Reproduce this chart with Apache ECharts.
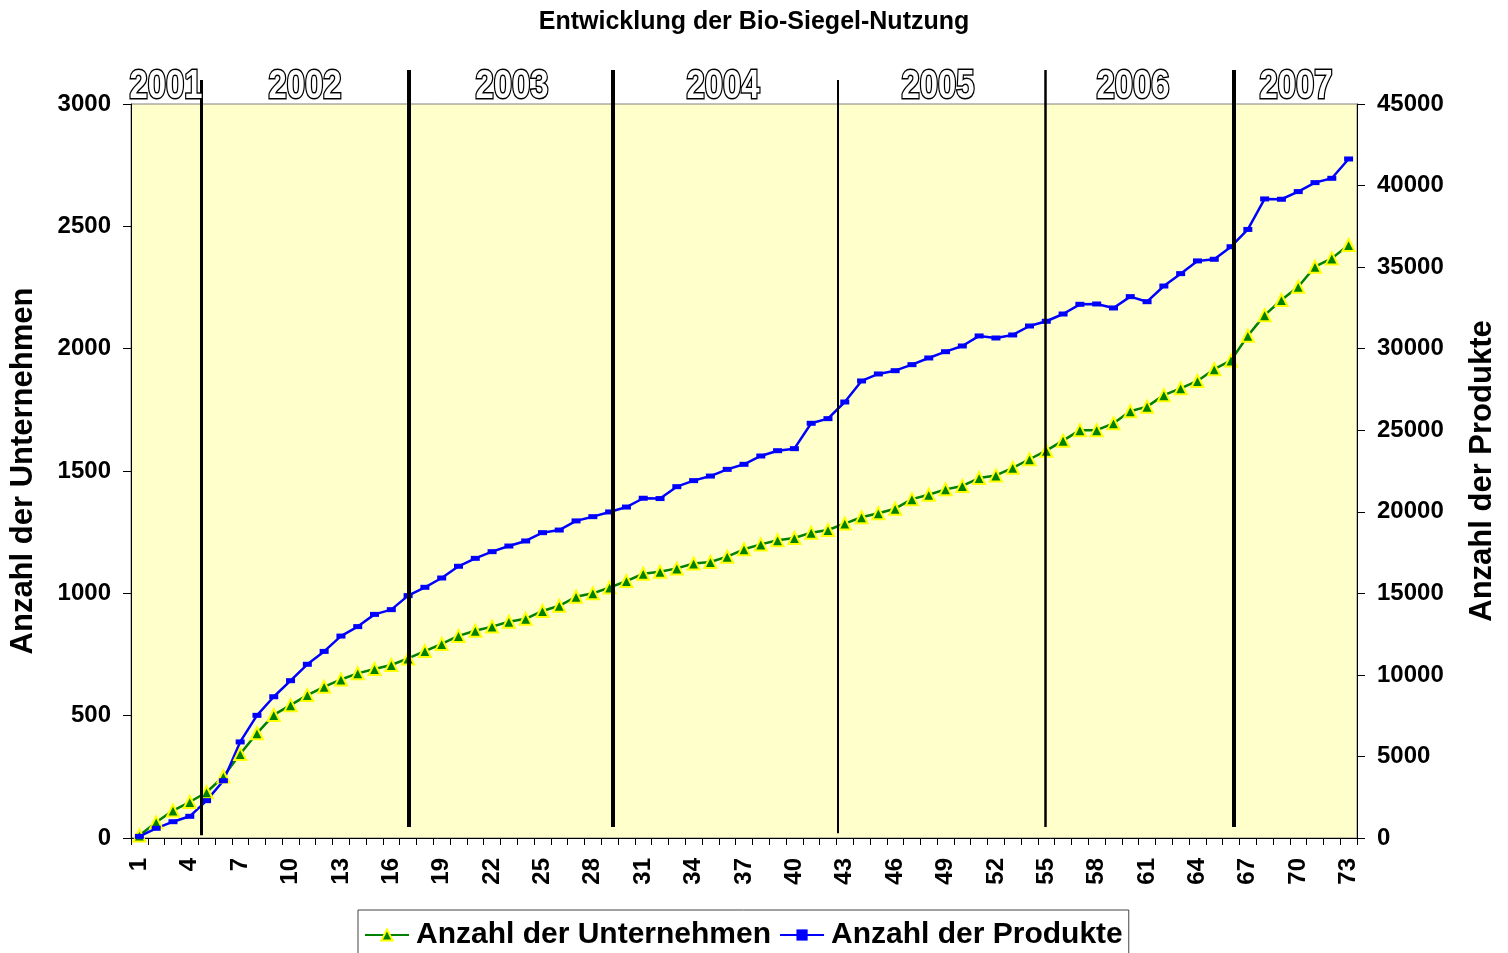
<!DOCTYPE html>
<html>
<head>
<meta charset="utf-8">
<script src="https://cdn.jsdelivr.net/npm/echarts@6/dist/echarts.min.js"></script>
<style>
  html, body { margin: 0; padding: 0; background: #fff; }
  #main { width: 1508px; height: 953px; }
</style>
</head>
<body>
<div id="main"></div>
<script>
// Wochen 1..73
const wochen = Array.from({ length: 73 }, (_, i) => String(i + 1));

const unternehmen = [
  10, 64, 112, 147, 187, 251, 343, 428, 503, 543,
  584, 618, 648, 673, 691, 707, 734, 764, 793, 826,
  847, 864, 884, 896, 928, 949, 986, 1000, 1024, 1050,
  1080, 1088, 1102, 1122, 1128, 1150, 1180, 1200, 1217, 1226,
  1248, 1259, 1285, 1311, 1327, 1346, 1385, 1403, 1425, 1439,
  1471, 1482, 1513, 1548, 1583, 1624, 1667, 1667, 1695, 1744,
  1763, 1810, 1838, 1868, 1916, 1952, 2053, 2137, 2199, 2253,
  2335, 2369, 2424
];

const produkte = [
  100, 595, 1000, 1330, 2290, 3510, 5890, 7520, 8660, 9645,
  10650, 11440, 12380, 12960, 13710, 14000, 14860, 15370, 15940, 16660,
  17145, 17555, 17900, 18210, 18720, 18880, 19440, 19700, 19990, 20290,
  20830, 20810, 21540, 21910, 22190, 22600, 22910, 23420, 23745, 23870,
  25425, 25710, 26730, 28020, 28450, 28650, 29020, 29430, 29815, 30165,
  30780, 30655, 30840, 31390, 31680, 32125, 32720, 32740, 32495, 33190,
  32880, 33840, 34600, 35380, 35480, 36250, 37310, 39180, 39160, 39630,
  40180, 40445, 41630
];

// Jahresgrenzen (Position in Wochen) und Jahresbeschriftungen
const jahre = ['2001', '2002', '2003', '2004', '2005', '2006', '2007'];
const jahrLabelPos = [2.64, 10.91, 23.23, 35.78, 48.57, 60.17, 69.87];
const grenzen = [4.72, 17.1, 29.24, 42.62, 54.94, 66.18];
const grenzenBreite = [3, 4, 4, 2, 2.5, 4];
const grenzenOben = [3098, 3139, 3139, 3098, 3139, 3139];
const grenzenUnten = [12, 45, 45, 20, 45, 45];

const font = '"Liberation Sans", Arial, sans-serif';
const plain = v => String(v);

const chart = echarts.init(document.getElementById('main'));

const option = {
  textStyle: { fontFamily: font },
  animation: false,
  title: {
    text: 'Entwicklung der Bio-Siegel-Nutzung',
    left: 'center',
    top: 5,
    textStyle: { fontSize: 25, fontWeight: 'bold', color: '#000', fontFamily: font }
  },
  legend: {
    data: ['Anzahl der Unternehmen', 'Anzahl der Produkte'],
    top: 910,
    left: 358,
    itemWidth: 44,
    itemHeight: 14,
    itemGap: 8,
    padding: [10, 6, 4, 6],
    borderColor: '#444',
    borderWidth: 1,
    textStyle: { fontSize: 30, fontWeight: 'bold', color: '#000', fontFamily: font, padding: [0, 0, 0, 2] }
  },
  grid: [
    {
      left: 130,
      right: 151,
      top: 104,
      bottom: 115,
      show: true,
      backgroundColor: '#FFFFCC',
      borderColor: '#808080',
      borderWidth: 1
    },
    {
      // Hilfsraster fuer Jahreslinien, ragt ueber die Zeichenflaeche hinaus
      left: 130,
      right: 151,
      top: 60,
      bottom: 110
    }
  ],
  xAxis: [
    {
      type: 'category',
      data: wochen,
      boundaryGap: true,
      axisLine: { lineStyle: { color: '#000', width: 1 } },
      axisTick: { show: true, interval: 0, length: 7, lineStyle: { color: '#000' } },
      axisLabel: {
        interval: 2,
        rotate: 90,
        margin: 20,
        fontSize: 24,
        fontWeight: 'bold',
        color: '#000'
      },
      splitLine: { show: false }
    },
    {
      type: 'value',
      gridIndex: 1,
      min: 0.5,
      max: 73.5,
      show: false
    }
  ],
  yAxis: [
    {
      type: 'value',
      min: 0,
      max: 3000,
      interval: 500,
      name: 'Anzahl der Unternehmen',
      nameLocation: 'middle',
      nameRotate: 90,
      nameGap: 92,
      nameTextStyle: { fontSize: 31, fontWeight: 'bold', color: '#000' },
      axisLine: { show: true, lineStyle: { color: '#000' } },
      axisTick: { show: true, length: 8, lineStyle: { color: '#000' } },
      axisLabel: { fontSize: 24, fontWeight: 'bold', color: '#000', margin: 20, formatter: plain },
      splitLine: { show: false }
    },
    {
      type: 'value',
      min: 0,
      max: 45000,
      interval: 5000,
      name: 'Anzahl der Produkte',
      nameLocation: 'middle',
      nameRotate: 90,
      nameGap: 110,
      nameTextStyle: { fontSize: 31, fontWeight: 'bold', color: '#000' },
      axisLine: { show: true, lineStyle: { color: '#000' } },
      axisTick: { show: true, length: 8, lineStyle: { color: '#000' } },
      axisLabel: { fontSize: 24, fontWeight: 'bold', color: '#000', margin: 20, formatter: plain },
      splitLine: { show: false }
    },
    {
      // gleiche Skala wie links (Unternehmen), nur erweitert
      type: 'value',
      gridIndex: 1,
      min: -20,
      max: 3180,
      show: false
    }
  ],
  series: [
    {
      name: 'Anzahl der Unternehmen',
      type: 'line',
      data: unternehmen,
      yAxisIndex: 0,
      symbol: 'triangle',
      symbolSize: 12,
      showAllSymbol: true,
      lineStyle: { color: '#008000', width: 2.5 },
      itemStyle: { color: '#008000', borderColor: '#FFFF00', borderWidth: 2 },
      z: 3
    },
    {
      name: 'Anzahl der Produkte',
      type: 'line',
      data: produkte,
      yAxisIndex: 1,
      symbol: 'rect',
      symbolSize: [9, 5],
      showAllSymbol: true,
      lineStyle: { color: '#0000FF', width: 2.5 },
      itemStyle: { color: '#0000FF', borderWidth: 0 },
      z: 3
    },
    {
      // Jahreslinien
      name: 'jahre',
      type: 'line',
      xAxisIndex: 1,
      yAxisIndex: 2,
      data: [],
      clip: false,
      silent: true,
      z: 4,
      markLine: {
        silent: true,
        symbol: ['none', 'none'],
        label: { show: false },
        data: grenzen.map((g, i) => [
          { coord: [g, grenzenOben[i]], lineStyle: { color: '#000', width: grenzenBreite[i], type: 'solid' } },
          { coord: [g, grenzenUnten[i]] }
        ])
      }
    }
  ]
};

chart.setOption(option);

// Jahreszahlen: schmale, umrandete Schrift (per scaleX gestaucht)
const jahrGrafik = jahre.map((j, i) => {
  const p = chart.convertToPixel({ xAxisIndex: 1, yAxisIndex: 2 }, [jahrLabelPos[i], 3069]);
  return {
    type: 'text',
    x: p[0],
    y: p[1],
    scaleX: 0.82,
    z: 10,
    silent: true,
    style: {
      text: j,
      x: 0,
      y: 0,
      align: 'center',
      verticalAlign: 'middle',
      font: 'bold 40px "Liberation Sans", Arial, sans-serif',
      fill: '#fff',
      stroke: '#000',
      lineWidth: 3,
      strokeFirst: true
    }
  };
});
chart.setOption({ graphic: jahrGrafik });
</script>
</body>
</html>
